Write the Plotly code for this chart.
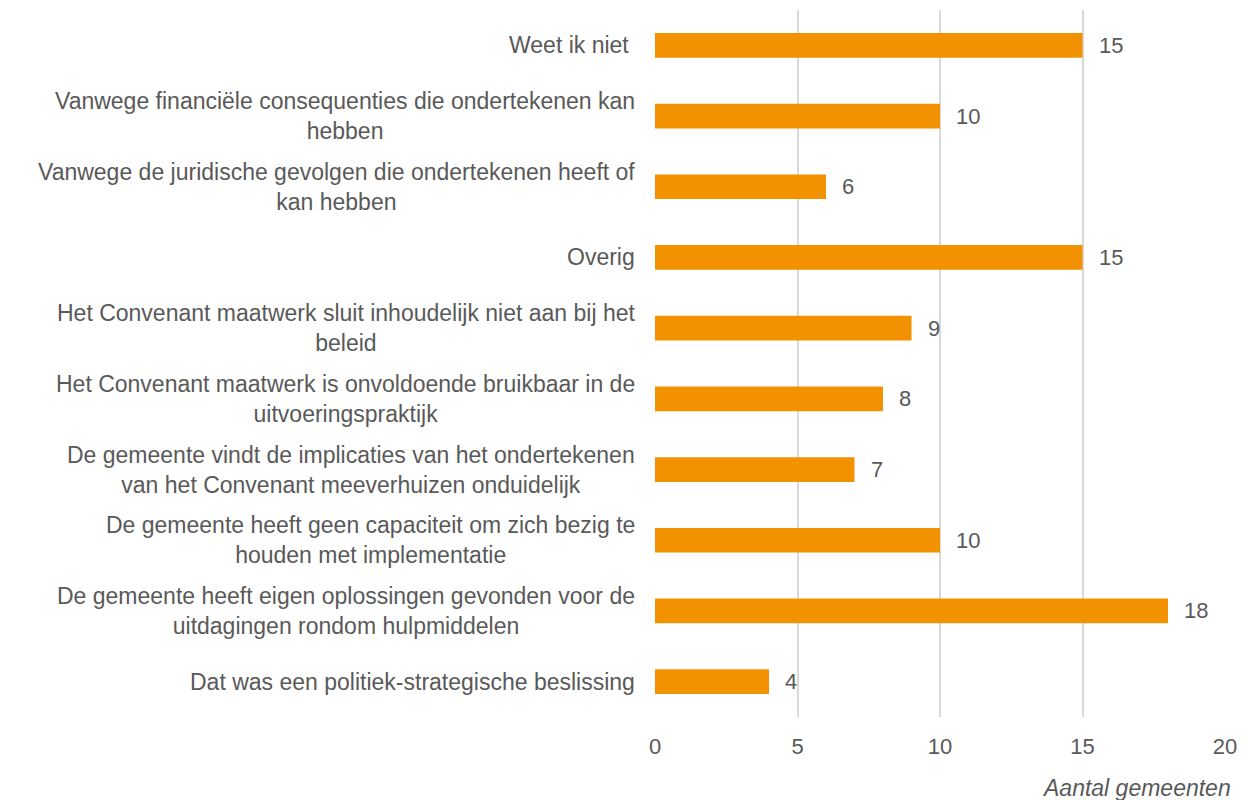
import plotly.graph_objects as go

categories = [
    'Weet ik niet ',
    'Vanwege financiële consequenties die ondertekenen kan<br>hebben',
    'Vanwege de juridische gevolgen die ondertekenen heeft of<br>kan hebben',
    'Overig',
    'Het Convenant maatwerk sluit inhoudelijk niet aan bij het<br>beleid',
    'Het Convenant maatwerk is onvoldoende bruikbaar in de<br>uitvoeringspraktijk',
    'De gemeente vindt de implicaties van het ondertekenen<br>van het Convenant meeverhuizen onduidelijk',
    'De gemeente heeft geen capaciteit om zich bezig te<br>houden met implementatie',
    'De gemeente heeft eigen oplossingen gevonden voor de<br>uitdagingen rondom hulpmiddelen',
    'Dat was een politiek-strategische beslissing',
]
values = [15, 10, 6, 15, 9, 8, 7, 10, 18, 4]
x_ticks = [0, 5, 10, 15, 20]
x_title = 'Aantal gemeenten'

orange = '#F39200'
grey_text = '#595959'
font_name = 'Liberation Sans, Arial, sans-serif'

ids = list(range(len(categories)))

fig = go.Figure()
fig.add_trace(go.Bar(
    y=ids, x=values, orientation='h',
    marker=dict(color=orange, line=dict(width=0)),
    width=0.35,
    hoverinfo='skip',
))

# value labels right of the bars
for i, v in zip(ids, values):
    fig.add_annotation(x=v, y=i, xref='x', yref='y', text=str(v),
                       showarrow=False, xanchor='left', xshift=14,
                       font=dict(size=22, color=grey_text, family=font_name))

# category labels, lines centred within the block (Excel style)
for i, c in zip(ids, categories):
    fig.add_annotation(x=0, y=i, xref='paper', yref='y', text=c,
                       showarrow=False, xanchor='right', align='center',
                       xshift=-18,
                       font=dict(size=23, color=grey_text, family=font_name))

fig.add_annotation(x=1, y=0, xref='paper', yref='paper', text='<i>' + x_title + '</i>',
                   showarrow=False, xanchor='right', yanchor='top',
                   xshift=8, yshift=-56,
                   font=dict(size=23, color=grey_text, family=font_name))

fig.update_xaxes(range=[0, 20], tickvals=x_ticks, showgrid=True,
                 gridcolor='#D9D9D9', gridwidth=1.5, zeroline=False,
                 showline=False, ticks='outside', ticklen=10, tickcolor='rgba(0,0,0,0)',
                 tickfont=dict(size=22, color=grey_text, family=font_name))
fig.update_yaxes(range=[len(categories) - 0.5, -0.5], showticklabels=False,
                 showgrid=False, zeroline=False, showline=False)

# the page body adds an 8px margin, so the figure is 8px smaller
fig.update_layout(
    width=1242, height=792,
    margin=dict(l=647, r=25, t=2, b=83),
    plot_bgcolor='white', paper_bgcolor='white',
    showlegend=False,
    font=dict(family=font_name, color=grey_text),
)

fig.write_html("out.html")
